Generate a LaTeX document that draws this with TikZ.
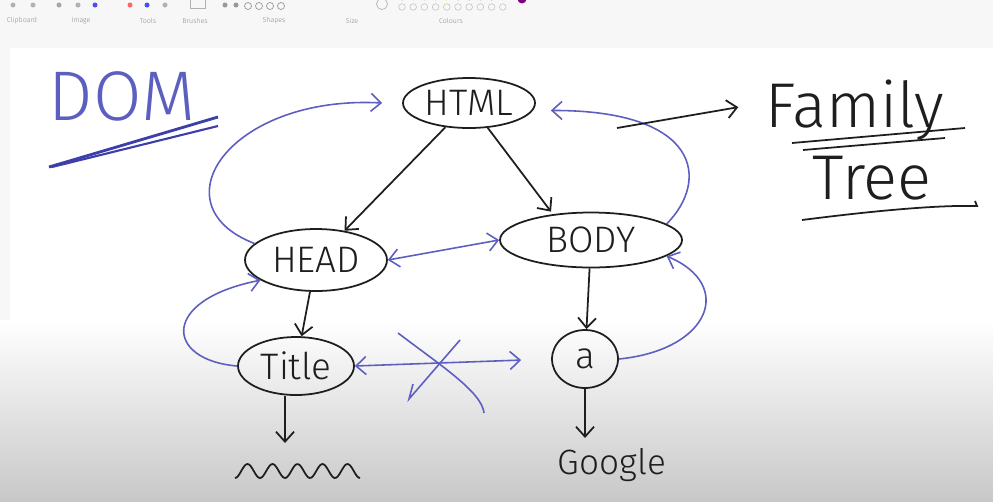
\documentclass[tikz,border=0pt]{standalone}
\usepackage{fontspec}
\setmainfont{Fira Sans Light}
\usetikzlibrary{shapes.geometric,arrows.meta}
\definecolor{inkblack}{RGB}{30,30,30}
\definecolor{penblue}{RGB}{92,94,192}
\definecolor{inkblue}{RGB}{60,62,170}
\definecolor{barbg}{RGB}{247,247,247}
\definecolor{boardgray}{RGB}{200,200,200}
\newcommand{\tagname}[1]{\makebox[0pt]{#1}}

\begin{document}
\begin{tikzpicture}[x=0.02cm, y=-0.02cm,
        tag/.style={ellipse, draw=inkblack, line width=1pt, inner sep=0pt, text=inkblack, font=\fontsize{21}{21}\selectfont},
        hand/.style={text=inkblack, inner sep=0pt},
        treeedge/.style={draw=inkblack, line width=1pt, -{Straight Barb[length=2mm,width=3.6mm]}},
        backedge/.style={draw=penblue, line width=0.9pt, -{Straight Barb[length=2mm,width=3.6mm]}},
        sibedge/.style={draw=penblue, line width=0.9pt, {Straight Barb[length=2mm,width=3.6mm]}-{Straight Barb[length=2mm,width=3.6mm]}},
        barlabel/.style={text=black!45, font=\fontsize{4}{4}\selectfont, inner sep=0pt}]
        \useasboundingbox (0,0) rectangle (993,501);
        \fill[barbg] (0,0) rectangle (993,501);
        \fill[white] (10,48) rectangle (993,320);
        \shade[top color=white, bottom color=boardgray] (0,320) rectangle (993,501);

        \foreach \x/\name in {22/Clipboard, 81/Image, 148/Tools, 195/Brushes, 274/Shapes, 352/Size, 451/Colours}
            \node[barlabel] (bar\x) at (\x,21) {\name};
        \foreach \x/\c in {13/black!30, 33/black!30, 59/black!35, 78/black!30, 95/blue!70, 130/red!60, 147/blue!70, 165/black!30, 225/black!40, 236/black!40}
            \fill[\c] (\x,5) circle (0.05cm);
        \draw[black!30, line width=0.3pt] (190,-1) rectangle (205,8);
        \foreach \x in {248,259,270,281}
            \draw[black!40, line width=0.4pt] (\x,6) circle (0.07cm);
        \draw[black!30, line width=0.4pt] (382,4) circle (0.11cm);
        \foreach \i in {0,...,9}
            \draw[black!25, line width=0.3pt] (402+\i*11.2,7) circle (0.066cm);
        \foreach \i/\c in {0/black!60, 1/black!30, 2/red!70, 3/orange, 4/yellow, 5/green!60!black, 6/cyan, 7/blue!60, 8/violet, 9/black!20}
            \fill[\c] (402+\i*11.2,-3) circle (0.066cm);
        \fill[violet] (522,-1) circle (0.09cm);

        \node[text=penblue, inner sep=0pt, font=\fontsize{40}{40}\selectfont] (dom) at (122,96) {DOM};
        \draw[inkblue, line width=1.6pt] (49,167) -- (218,117);
        \draw[inkblue, line width=1.2pt] (52,167) -- (218,126);

        \node[tag, minimum width=2.64cm, minimum height=1cm] (html) at (469,103) {\tagname{HTML}};
        \node[tag, minimum width=2.84cm, minimum height=1.24cm] (head) at (316,260) {\tagname{HEAD}};
        \node[tag, minimum width=3.64cm, minimum height=1.1cm] (body) at (591,240) {\tagname{BODY}};
        \node[tag, minimum width=2.32cm, minimum height=1.16cm] (title) at (296,366) {\tagname{Title}};
        \node[tag, minimum width=1.32cm, minimum height=1.16cm] (a) at (585,359) {\tagname{a}};
        \node[hand, font=\fontsize{20}{20}\selectfont] (google) at (612,465) {Google};
        \coordinate (wave) at (285,443);

        \draw[treeedge] (html) -- (head);
        \draw[treeedge] (html) -- ([xshift=-0.8cm]body.north);
        \draw[treeedge] (head) -- (title);
        \draw[treeedge] (body) -- (a);
        \draw[treeedge] (title.south -| wave) -- (wave);
        \draw[treeedge] (a.south) -- ([yshift=0.2cm]a.south |- google.north);
        \draw[inkblack, line width=1pt] plot[domain=0:5, samples=80, smooth] ({235+\x*25}, {471+7*cos(\x*360)});

        \draw[backedge] (head.165) .. controls (155,205) and (230,95) .. ([xshift=-0.4cm]html.west);
        \draw[backedge] (body.12) .. controls (710,180) and (700,110) .. ([shift={(0.3cm,-0.15cm)}]html.east);
        \draw[backedge] (title.west) .. controls (165,360) and (160,300) .. (head.200);
        \draw[backedge] (a.east) .. controls (710,350) and (735,285) .. (body.-12);
        \draw[sibedge] (head.east) -- (body.west);
        \draw[sibedge, shorten >=0.6cm] (title.east) -- (a.west);
        \draw[penblue, line width=0.9pt] (398,333) .. controls (440,365) and (482,392) .. (484,413);
        \draw[penblue, line width=0.9pt] (460,340) -- (409,399) -- (413,384);

        \node[hand, font=\fontsize{36}{36}\selectfont] (family) at (855,110) {Family};
        \node[hand, font=\fontsize{36}{36}\selectfont] (tree) at (872,178) {Tree};
        \coordinate (tail) at (617,128);
        \draw[treeedge, shorten >=0.55cm] (tail) -- ([yshift=0.15cm]family.west);
        \draw[inkblack, line width=1pt] (792,143) -- (965,128);
        \draw[inkblack, line width=1pt] (803,150) -- (945,138);
        \draw[inkblack, line width=1pt] (802,220) .. controls (880,210) and (940,205) .. (977,206) -- (975,201);
    \end{tikzpicture}
\end{document}
